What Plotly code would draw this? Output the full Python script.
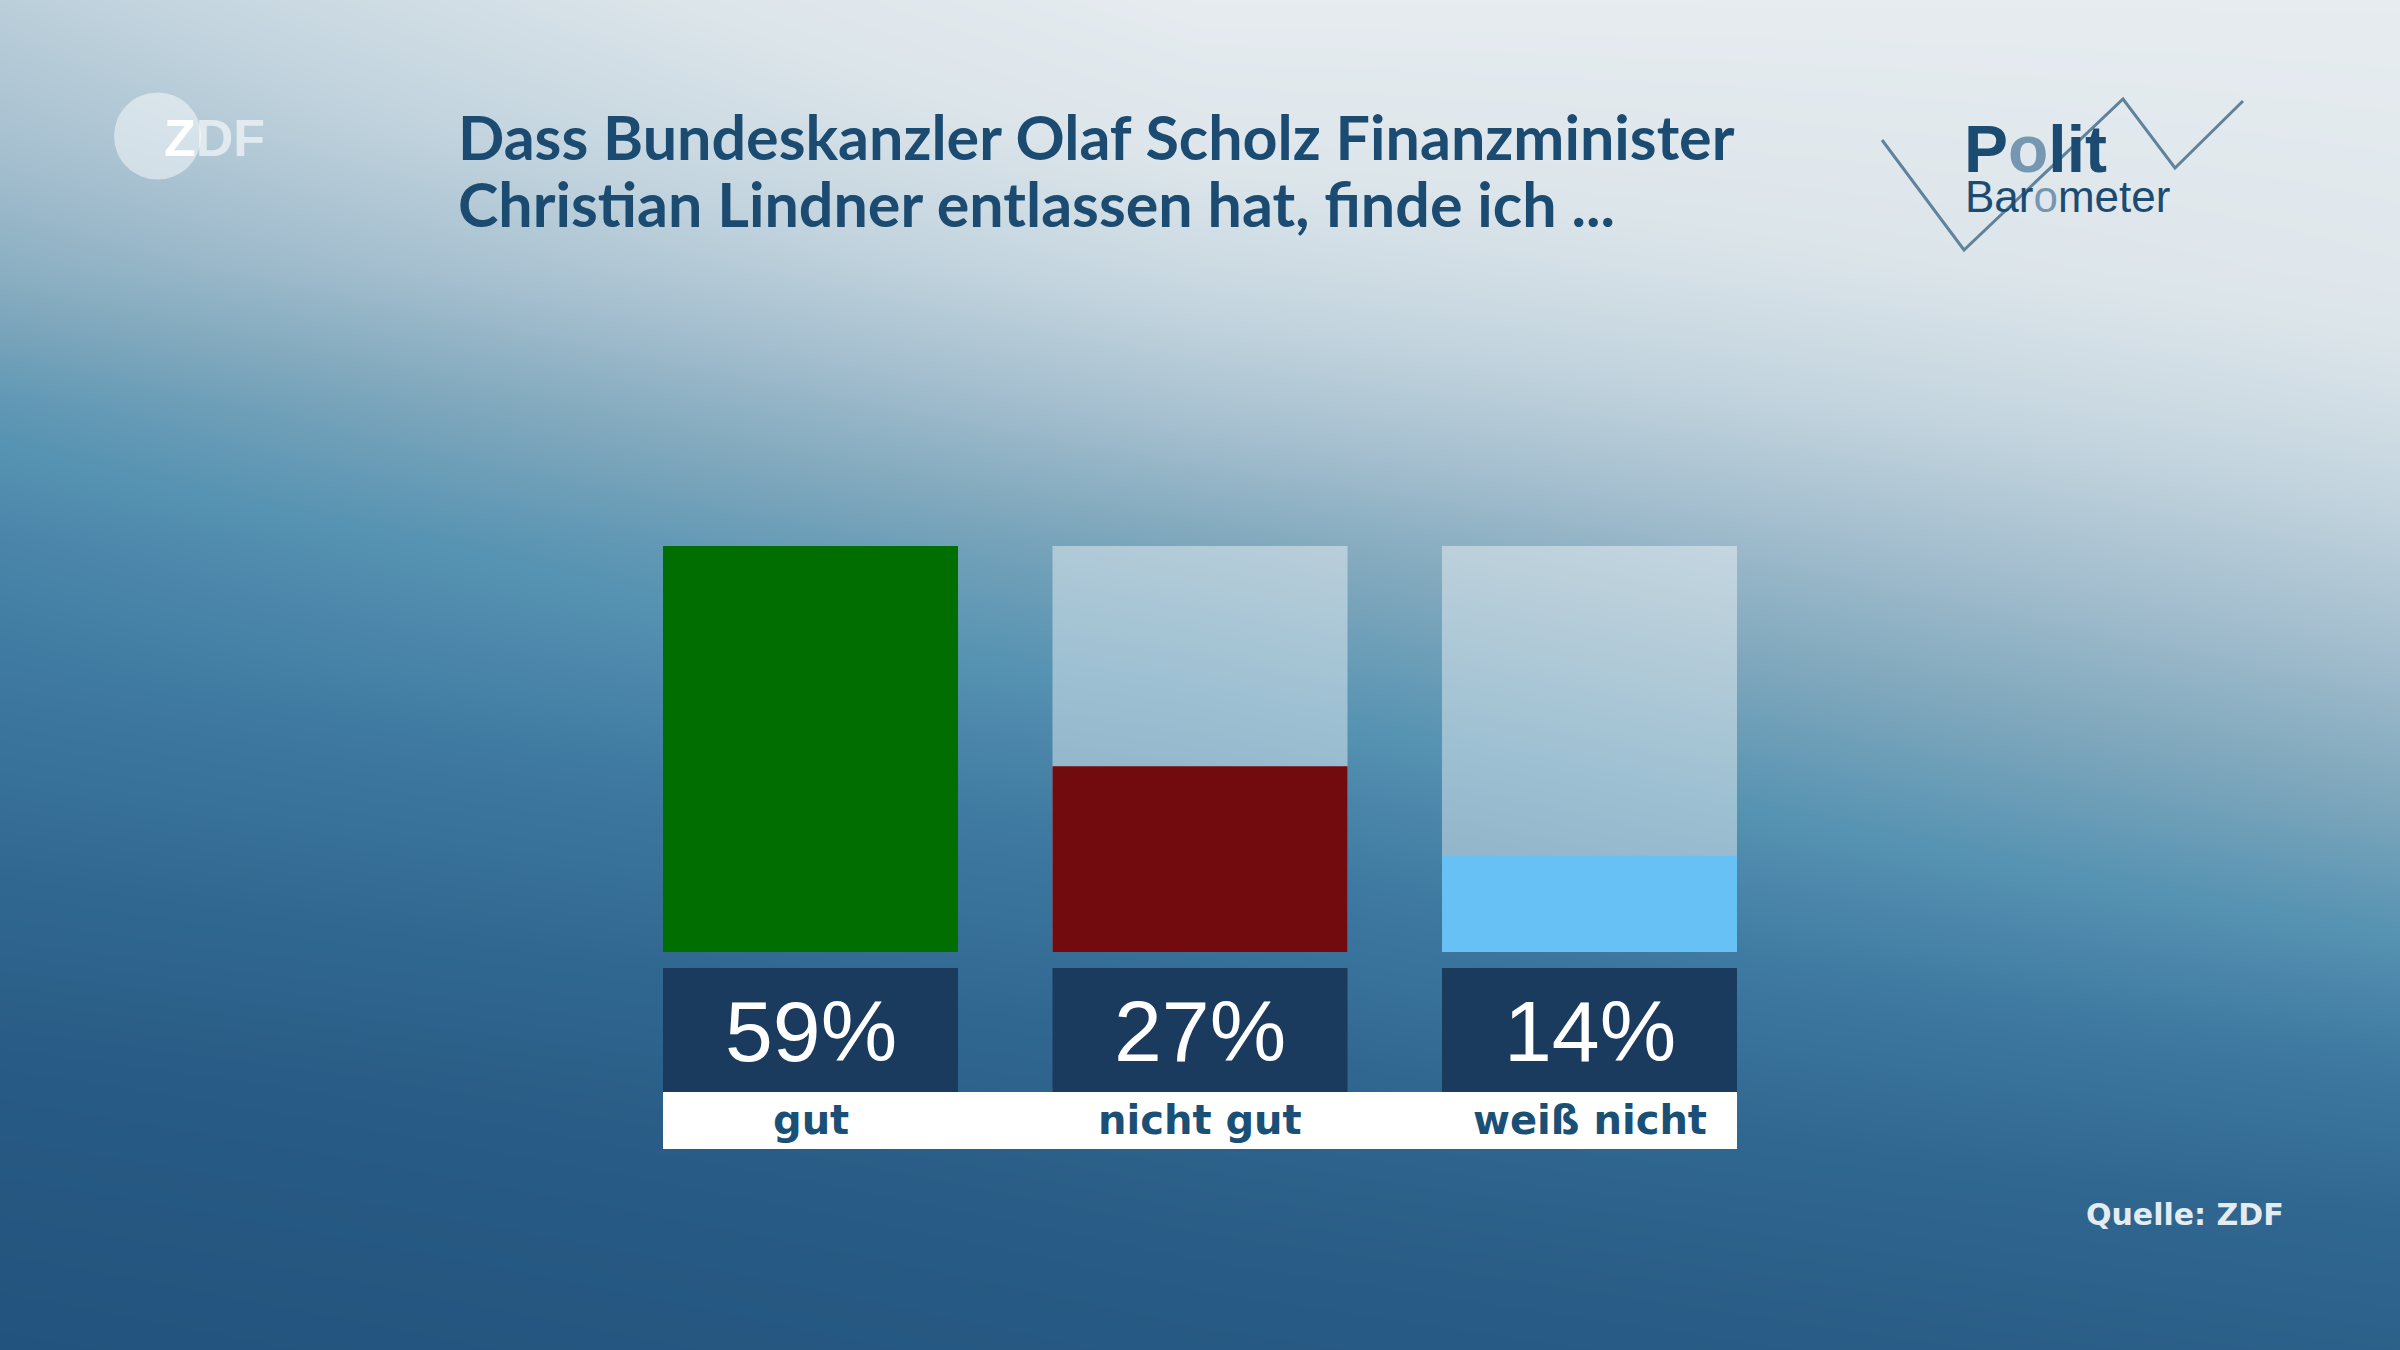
import plotly.graph_objects as go

# ---------------- data ----------------
categories = ["gut", "nicht gut", "weiß nicht"]
values = [59, 27, 14]
bar_colors = ["#006e00", "#720b0d", "#67c1f5"]
title_lines = ["Dass Bundeskanzler Olaf Scholz Finanzminister",
               "Christian Lindner entlassen hat, finde ich ..."]
source_text = "Quelle: ZDF"

# background gradient key points (lightness index, 0 = light, 1 = dark)
bg_u = [0.0, 0.5, 1.0]
bg_v = [0.0, 0.1, 0.2, 0.3, 0.4, 0.5, 0.6, 0.7, 0.8, 0.9, 1.0]
bg_t = [
    [0.25, 0.02, 0.02],
    [0.31, 0.095, 0.05],
    [0.39, 0.19, 0.085],
    [0.50, 0.30, 0.16],
    [0.575, 0.42, 0.25],
    [0.63, 0.51, 0.34],
    [0.70, 0.60, 0.43],
    [0.775, 0.68, 0.53],
    [0.86, 0.76, 0.64],
    [0.93, 0.82, 0.74],
    [1.00, 0.88, 0.80],
]
bg_scale = [
    [0.00, "#e8edf1"], [0.12, "#dce5ea"], [0.22, "#c4d5df"], [0.32, "#a5bfcf"],
    [0.42, "#80a8bd"], [0.52, "#5793b2"], [0.62, "#3f7aa2"], [0.74, "#306790"],
    [0.86, "#275a84"], [1.00, "#22537e"],
]

W, H = 2400, 1350


def px(x):
    return x / W


def py(y):
    return 1 - y / H


# ---------------- geometry ----------------
bar_top_px, bar_base_px = 546, 952
ymax = max(values)
unit_px = (bar_base_px - bar_top_px) / ymax
ymin = -30
dom_bottom_px = bar_base_px - ymin * unit_px
step_px = 389.5
first_center_px = 810.5
x_left_px = first_center_px - 0.5 * step_px
x_right_px = x_left_px + 3 * step_px
bar_w = 295 / step_px
half = bar_w / 2

TITLE_COLOR = "#1b4b71"
LABEL_COLOR = "#1a4f76"

fig = go.Figure()

fig.add_trace(go.Heatmap(
    x=bg_u, y=bg_v, z=bg_t, colorscale=bg_scale, zmin=0, zmax=1,
    zsmooth="best", showscale=False, hoverinfo="skip",
    xaxis="x", yaxis="y"))

fig.add_trace(go.Bar(
    x=categories, y=[ymax] * len(categories), width=bar_w,
    marker=dict(color="rgba(255,255,255,0.42)", line=dict(width=0)),
    hoverinfo="skip", xaxis="x2", yaxis="y2", showlegend=False))

fig.add_trace(go.Bar(
    x=categories, y=values, width=bar_w,
    marker=dict(color=bar_colors, line=dict(width=0)),
    xaxis="x2", yaxis="y2", showlegend=False))

shapes = []
annotations = []

# white label band
shapes.append(dict(type="rect", xref="x2", yref="paper",
                   x0=-half, x1=len(categories) - 1 + half, y0=py(1149), y1=py(1092),
                   fillcolor="#ffffff", line=dict(width=0), layer="above"))

# label boxes
for i, (cat, v) in enumerate(zip(categories, values)):
    shapes.append(dict(type="rect", xref="x2", yref="paper",
                       x0=i - half, x1=i + half, y0=py(1092), y1=py(968),
                       fillcolor="#1a3a5e", line=dict(width=0), layer="above"))
    annotations.append(dict(xref="x2", yref="paper", x=i, y=py(1031),
                            text=f"{v}%", showarrow=False,
                            xanchor="center", yanchor="middle",
                            font=dict(family="Liberation Sans", size=86, color="#ffffff")))
    annotations.append(dict(xref="x2", yref="paper", x=i, y=py(1120),
                            text=cat, showarrow=False,
                            xanchor="center", yanchor="middle",
                            font=dict(family="DejaVu Sans", size=40, color=LABEL_COLOR, weight=700)))

# title
annotations.append(dict(xref="paper", yref="paper", x=px(456), y=py(136),
                        text=title_lines[0], showarrow=False,
                        xanchor="left", yanchor="middle",
                        font=dict(family="Lato", size=61, color=TITLE_COLOR, weight=700)))
annotations.append(dict(xref="paper", yref="paper", x=px(456), y=py(203),
                        text=title_lines[1], showarrow=False,
                        xanchor="left", yanchor="middle",
                        font=dict(family="Lato", size=61, color=TITLE_COLOR, weight=700)))

# ZDF logo
cx, cy, r = 157.6, 136, 43.6
shapes.append(dict(type="circle", xref="paper", yref="paper",
                   x0=px(cx - r), x1=px(cx + r), y0=py(cy + r), y1=py(cy - r),
                   fillcolor="rgba(255,255,255,0.48)", line=dict(width=0), layer="above"))
annotations.append(dict(xref="paper", yref="paper", x=px(162), y=py(138),
                        text='<span style="color:#ffffff">Z</span><span style="color:rgba(255,255,255,0.6)">DF</span>',
                        showarrow=False, xanchor="left", yanchor="middle",
                        font=dict(family="Liberation Sans", size=52, color="#ffffff", weight=700)))

# Politbarometer logo
zig = [(1882, 140), (1964, 250), (2123, 99), (2175, 168), (2243, 101)]
path = "M " + " L ".join(f"{px(a):.5f},{py(b):.5f}" for a, b in zig)
shapes.append(dict(type="path", xref="paper", yref="paper", path=path,
                   line=dict(color="#5f839d", width=3), layer="above"))
annotations.append(dict(xref="paper", yref="paper", x=px(1962), y=py(149),
                        text='P<span style="color:#7597b1">o</span>lit',
                        showarrow=False, xanchor="left", yanchor="middle",
                        font=dict(family="Liberation Sans", size=66, color=TITLE_COLOR, weight=700)))
annotations.append(dict(xref="paper", yref="paper", x=px(1963), y=py(196),
                        text='Bar<span style="color:#7597b1">o</span>meter',
                        showarrow=False, xanchor="left", yanchor="middle",
                        font=dict(family="Liberation Sans", size=44, color=TITLE_COLOR)))

# source
annotations.append(dict(xref="paper", yref="paper", x=px(2286), y=py(1214),
                        text=source_text, showarrow=False,
                        xanchor="right", yanchor="middle",
                        font=dict(family="DejaVu Sans", size=30, color="#e4ecf2", weight=700)))

fig.update_layout(
    width=W, height=H, autosize=False,
    margin=dict(l=0, r=0, t=0, b=0, pad=0),
    paper_bgcolor="#2e6690", plot_bgcolor="rgba(0,0,0,0)",
    barmode="overlay", showlegend=False,
    xaxis=dict(domain=[0, 1], range=[0, 1], visible=False, fixedrange=True),
    yaxis=dict(domain=[0, 1], range=[1, 0], visible=False, fixedrange=True),
    xaxis2=dict(domain=[px(x_left_px), px(x_right_px)], range=[-0.5, 2.5],
                anchor="y2", visible=False, fixedrange=True, type="category"),
    yaxis2=dict(domain=[py(dom_bottom_px), py(bar_top_px)], range=[ymin, ymax],
                anchor="x2", visible=False, fixedrange=True),
    shapes=shapes, annotations=annotations,
)

fig.write_html("out.html", config={"displayModeBar": False})

# remove the default page margin so the figure fills the window exactly
with open("out.html", "r", encoding="utf-8") as f:
    html = f.read()
html = html.replace("<head>", "<head><style>html,body{margin:0;padding:0;overflow:hidden;}</style>", 1)
with open("out.html", "w", encoding="utf-8") as f:
    f.write(html)
